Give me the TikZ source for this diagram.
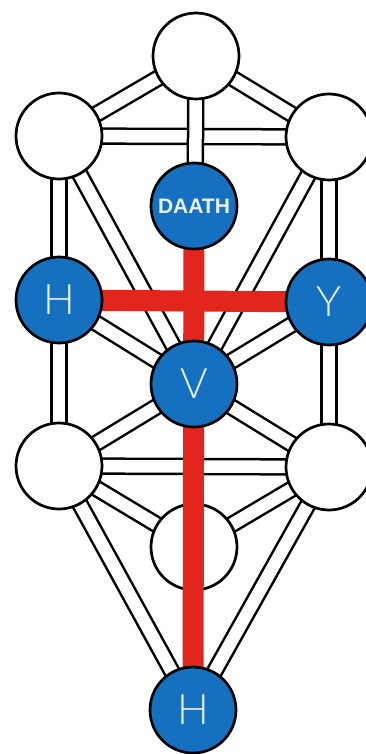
\documentclass[tikz,border=0pt]{standalone}
\usepackage{fontspec}
\setmainfont{Liberation Sans}
\newfontfamily\lightfont{Lato Light}
\definecolor{sefblue}{RGB}{21,112,192}
\definecolor{barred}{RGB}{226,38,29}
\definecolor{txtwhite}{RGB}{232,242,252}
\pgfdeclarelayer{bgfill}
\pgfdeclarelayer{paths}
\pgfdeclarelayer{whites}
\pgfdeclarelayer{reds}
\pgfsetlayers{bgfill,paths,whites,reds,main}
\begin{document}
\begin{tikzpicture}[x=1pt,y=-1pt,
  pathway/.style={line width=2.5pt, double=white, double distance=12.5pt},
  redbar/.style={barred, line width=21pt},
  sefwhite/.style={circle, draw=black, line width=2.7pt, fill=white, minimum size=86pt, inner sep=0pt},
  bluesef/.style={sefwhite, fill=sefblue, text=txtwhite, font=\lightfont\fontsize{42}{42}\selectfont},
  daathfont/.style={font=\bfseries\fontsize{21}{21}\selectfont}
]
\useasboundingbox (0,0) rectangle (366,754);
\begin{pgfonlayer}{bgfill}
  \fill[white] (0,0) rectangle (366,754);
\end{pgfonlayer}
% white sephiroth
\begin{pgfonlayer}{whites}
  \node[sefwhite] (K)  at (196,56)  {};
  \node[sefwhite] (BL) at (59,136)  {};
  \node[sefwhite] (CR) at (329,137) {};
  \node[sefwhite] (HL) at (59,466)  {};
  \node[sefwhite] (NR) at (329,467) {};
  \node[sefwhite] (Ye) at (194,547) {};
\end{pgfonlayer}
% blue sephiroth
\node[bluesef, daathfont] (D) at (194,206) {DAATH};
\node[bluesef] (GL) at (59,300)  {H};
\node[bluesef] (GR) at (329,302) {Y};
\node[bluesef] (V)  at (194,384) {V};
\node[bluesef] (M)  at (193,710) {H};
% red cross
\begin{pgfonlayer}{reds}
  \draw[redbar] (D.center) -- (M.center);
  \draw[redbar] (GL.center) -- (GR.center);
\end{pgfonlayer}
% paths
\begin{pgfonlayer}{paths}
  \draw[pathway] (BL.center) -- (CR.center);
  \draw[pathway] (GL.center) -- (GR.center);
  \draw[pathway] (HL.center) -- (NR.center);
  \draw[pathway] (K.center) -- (BL.center);
  \draw[pathway] (K.center) -- (CR.center);
  \draw[pathway] (BL.center) -- (V.center);
  \draw[pathway] (CR.center) -- (V.center);
  \draw[pathway] (GL.center) -- (V.center);
  \draw[pathway] (GR.center) -- (V.center);
  \draw[pathway] (HL.center) -- (V.center);
  \draw[pathway] (NR.center) -- (V.center);
  \draw[pathway] (HL.center) -- (Ye.center);
  \draw[pathway] (NR.center) -- (Ye.center);
  \draw[pathway] (HL.center) -- (M.center);
  \draw[pathway] (NR.center) -- (M.center);
  \draw[pathway] (BL.center) -- (GL.center);
  \draw[pathway] (CR.center) -- (GR.center);
  \draw[pathway] (GL.center) -- (HL.center);
  \draw[pathway] (GR.center) -- (NR.center);
  \draw[pathway] (K.center) -- (V.center);
  \draw[pathway] (V.center) -- (Ye.center);
  \draw[pathway] (Ye.center) -- (M.center);
\end{pgfonlayer}
\end{tikzpicture}
\end{document}
